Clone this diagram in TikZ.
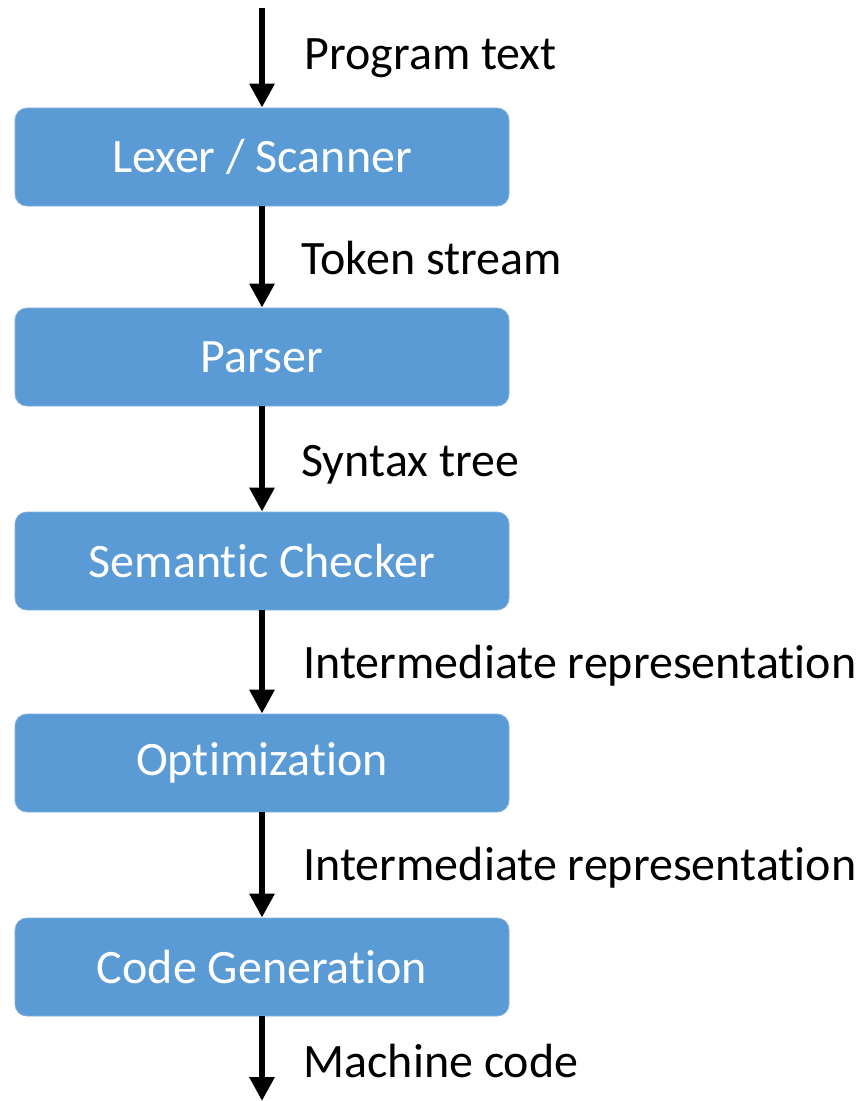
\documentclass[tikz,border=0pt]{standalone}
\usepackage{fontspec}
\setmainfont[Ligatures=NoCommon]{Carlito}
\usetikzlibrary{arrows.meta}

\definecolor{stageblue}{HTML}{5B9BD5}

\tikzset{
    stage/.style={rectangle, rounded corners=12pt, fill=stageblue, draw=stageblue!80!white,
        line width=0.8pt, minimum width=494pt, minimum height=98pt, text=white,
        font=\fontsize{48}{56}\selectfont},
    flow/.style={line width=6pt, -{Triangle[width=24pt,length=24pt]}},
    lbl/.style={anchor=base west, font=\fontsize{48}{56}\selectfont}
}

\begin{document}
\begin{tikzpicture}[x=1pt, y=-1pt]
    \useasboundingbox (0, 0) rectangle (862, 1101);

    \coordinate (in) at (262, 8);
    \coordinate (out) at (262, 1101);

    \node[stage] (lexer) at (262, 157) {Lexer / Scanner};
    \node[stage] (parser) at (262, 357) {Parser};
    \node[stage] (sema) at (262, 561) {Semantic Checker};
    \node[stage] (opt) at (262, 763) {Optimization};
    \node[stage] (codegen) at (262, 967) {Code Generation};

    \draw[flow] (in) -- (lexer);
    \draw[flow] (lexer) -- (parser);
    \draw[flow] (parser) -- (sema);
    \draw[flow] (sema) -- (opt);
    \draw[flow] (opt) -- (codegen);
    \draw[flow] (codegen) -- (out);

    \node[lbl] (l1) at (301, 69) {Program text};
    \node[lbl] (l2) at (298, 274) {Token stream};
    \node[lbl] (l3) at (298, 476) {Syntax tree};
    \node[lbl] (l4) at (300, 678) {Intermediate representation};
    \node[lbl] (l5) at (300, 880) {Intermediate representation};
    \node[lbl] (l6) at (300, 1077) {Machine code};
\end{tikzpicture}
\end{document}
